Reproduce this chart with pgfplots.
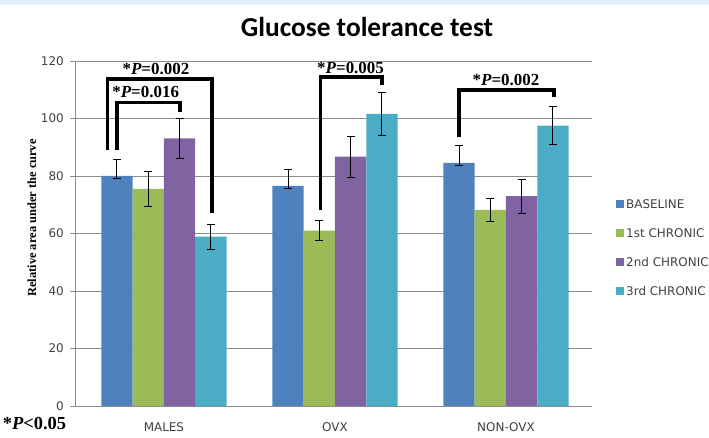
\documentclass[border=0pt]{standalone}
\usepackage{fontspec}
\setmainfont{Liberation Serif}
\newfontfamily\tickfont{DejaVu Sans}
\newfontfamily\titlefont{Carlito}
\usepackage{pgfplots}
\pgfplotsset{compat=1.18}
\definecolor{cBase}{HTML}{4F81BD}
\definecolor{cFirst}{HTML}{9BBB59}
\definecolor{cSecond}{HTML}{8064A2}
\definecolor{cThird}{HTML}{4BACC6}
\definecolor{gridgray}{HTML}{8C8C8C}
\definecolor{labgray}{HTML}{404040}
\definecolor{topband}{HTML}{E3EEF6}
\pgfplotsset{
  mybar/.style={ybar, bar width=0.183, bar shift=0, draw=none,
    error bars/y dir=both, error bars/y explicit,
    error bars/error mark=|,
    error bars/error bar style={draw=black, line width=1bp},
    error bars/error mark options={draw=black, rotate=0, mark size=4bp, line width=1bp}},
  bracket/.style={black, line width=3.5bp, line join=miter, mark=none, forget plot},
}
\begin{document}
\begin{tikzpicture}[x=1bp,y=1bp]
\fill[topband] (0,433) rectangle (709,438);
\node[font=\titlefont\bfseries\fontsize{27.5}{31}\selectfont, text=black] at (367,411) {Glucose tolerance test};
\begin{axis}[
  at={(75bp,32bp)}, anchor=south west,
  scale only axis, width=517bp, height=345bp,
  xmin=-0.52, xmax=2.503, ymin=0, ymax=120,
  xtick={0,1,2}, xticklabels={MALES,OVX,NON-OVX},
  ytick={0,20,...,120},
  axis x line*=bottom, axis y line*=left,
  axis line style={gridgray, line width=0.8bp, -},
  ymajorgrids, grid style={gridgray, line width=0.8bp},
  tick align=outside, major tick length=5bp,
  ytick style={gridgray, line width=0.8bp},
  xtick style={draw=none},
  ticklabel style={font=\tickfont\fontsize{12}{14}\selectfont, text=labgray},
  /pgf/number format/assume math mode=true,
  yticklabel style={anchor=east, inner sep=0pt, xshift=-6bp},
  xticklabel style={anchor=center, inner sep=0pt, yshift=-16bp},
  clip=false,
  legend style={at={(1.0464,0.458)}, anchor=west, draw=none, fill=none, inner sep=0pt,
    row sep=14.5bp, font=\tickfont\fontsize{12}{14}\selectfont, text=labgray,
    nodes={inner sep=2bp}},
  legend cell align=left,
  legend image code/.code={\fill[#1] (0bp,-4bp) rectangle (8bp,4bp);},
]
% bars are placed at their shifted category positions (group centre 0,1,2)
\addplot[mybar, fill=cBase] coordinates {
  (-0.2745,80.0) += (0,5.9) -= (0,1.0)
  (0.7255,76.6) += (0,5.7) -= (0,0.8)
  (1.7255,84.6) += (0,5.9) -= (0,0.8)
};
\addlegendentry{BASELINE}
\addplot[mybar, fill=cFirst] coordinates {
  (-0.0915,75.5) +- (0,6.2)
  (0.9085,61.0) +- (0,3.5)
  (1.9085,68.2) +- (0,3.9)
};
\addlegendentry{1st CHRONIC}
\addplot[mybar, fill=cSecond] coordinates {
  (0.0915,93.1) +- (0,6.9)
  (1.0915,86.7) +- (0,7.1)
  (2.0915,73.0) +- (0,5.9)
};
\addlegendentry{2nd CHRONIC}
\addplot[mybar, fill=cThird] coordinates {
  (0.2745,58.9) +- (0,4.3)
  (1.2745,101.6) +- (0,7.6)
  (2.2745,97.5) +- (0,6.6)
};
\addlegendentry{3rd CHRONIC}
% significance brackets
\addplot[bracket] coordinates {(-0.33,89) (-0.33,113.7) (0.28,113.7) (0.28,67.1)};
\addplot[bracket] coordinates {(-0.274,89) (-0.274,105.6) (0.095,105.6) (0.095,102.2)};
\addplot[bracket] coordinates {(0.915,68.2) (0.915,114.5) (1.274,114.5) (1.274,111.7)};
\addplot[bracket] coordinates {(1.726,93.5) (1.726,109.9) (2.28,109.9) (2.28,107.6)};
\node[font=\bfseries\fontsize{17}{19}\selectfont] at (axis cs:-0.047,117.2) {*\textit{P}=0.002};
\node[font=\bfseries\fontsize{17}{19}\selectfont] at (axis cs:-0.107,109.1) {*\textit{P}=0.016};
\node[font=\bfseries\fontsize{17}{19}\selectfont] at (axis cs:1.091,117.4) {*\textit{P}=0.005};
\node[font=\bfseries\fontsize{17}{19}\selectfont] at (axis cs:2.0,113.4) {*\textit{P}=0.002};
\end{axis}
\node[rotate=90, font=\bfseries\fontsize{12.5}{14}\selectfont] at (32,220) {Relative area under the curve};
\node[font=\bfseries\fontsize{18.5}{20}\selectfont] at (34.5,14.7) {*\textit{P}<0.05};
\pgfresetboundingbox
\useasboundingbox (0,0) rectangle (709,438);
\end{tikzpicture}
\end{document}
